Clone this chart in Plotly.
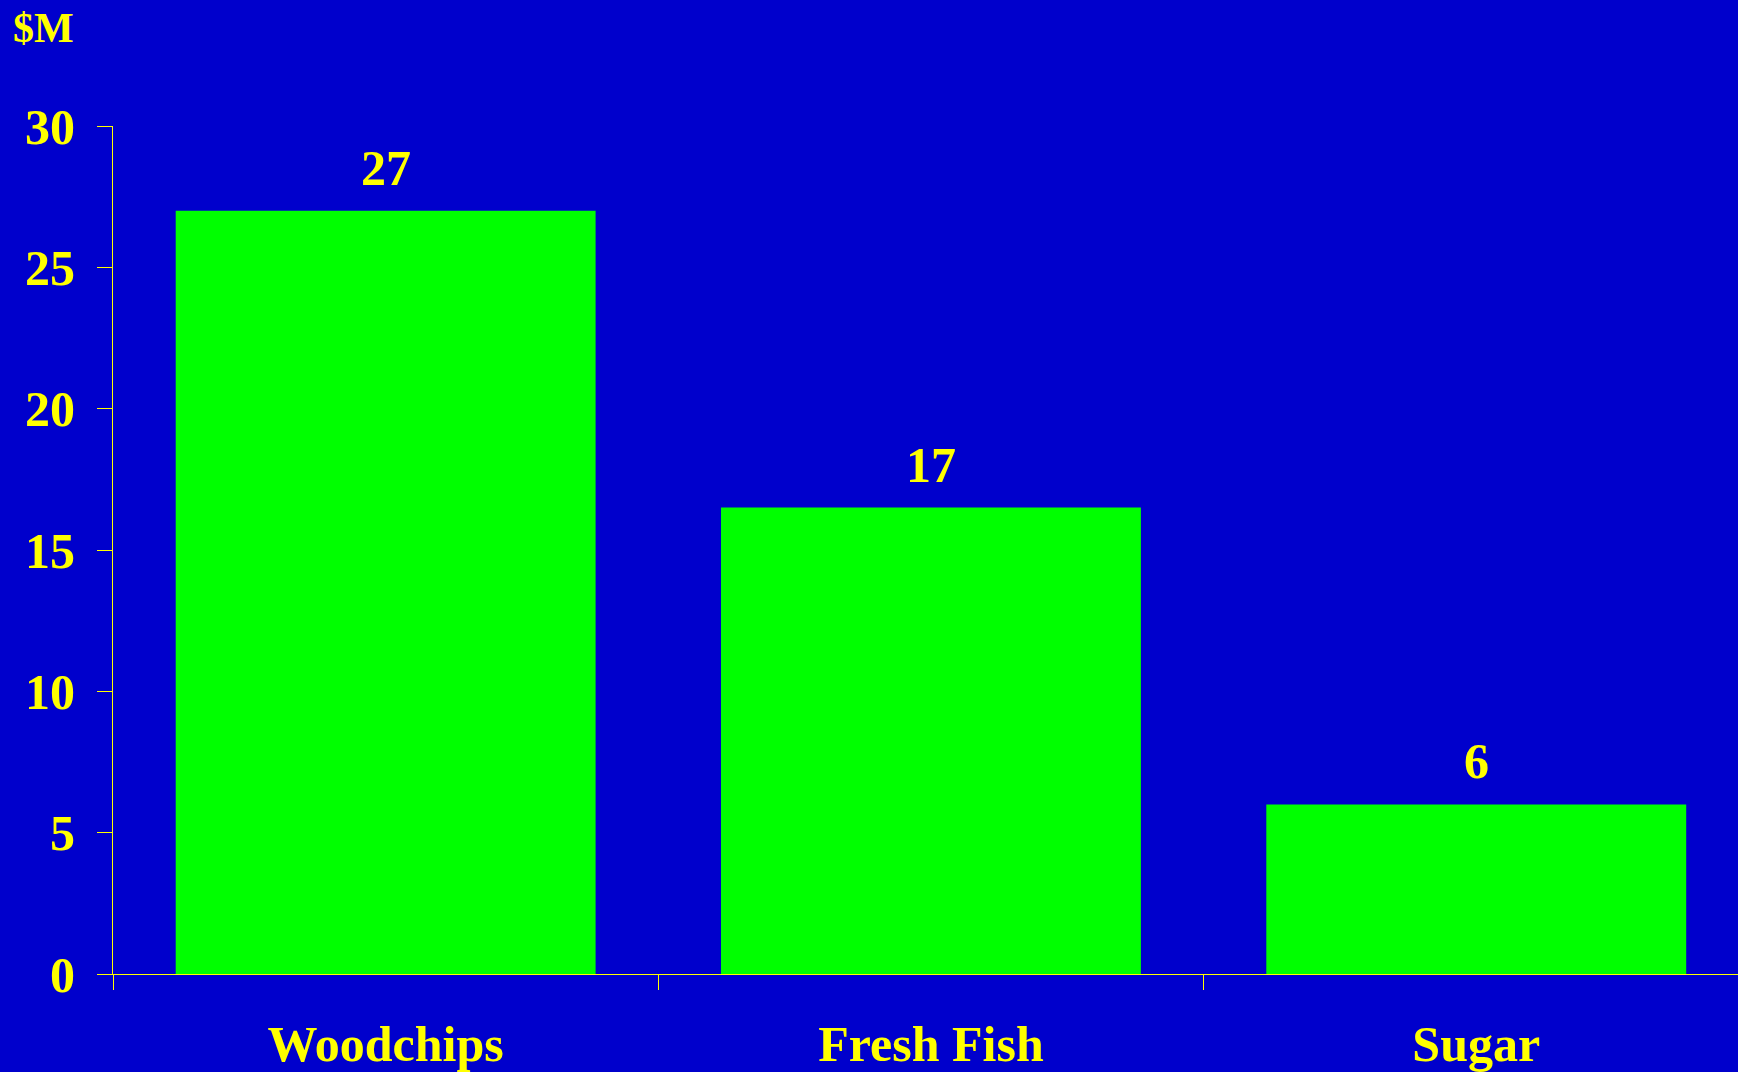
import plotly.graph_objects as go

categories = ["Woodchips", "Fresh Fish", "Sugar"]
values = [27, 16.5, 6]
value_labels = ["27", "17", "6"]
y_ticks = [0, 5, 10, 15, 20, 25, 30]

BG = "#0000CC"
BAR = "#00FF00"
TXT = "#FFFF00"
FONT = "Liberation Serif"

fig = go.Figure()
fig.add_trace(go.Bar(x=categories, y=values, marker=dict(color=BAR, line=dict(width=0)),
                     hoverinfo="skip"))

for c, v, t in zip(categories, values, value_labels):
    fig.add_annotation(x=c, y=v, text=f"<b>{t}</b>", showarrow=False, xref="x", yref="y",
                       yanchor="bottom", yshift=13,
                       font=dict(family=FONT, size=50, color=TXT))

fig.add_annotation(x=-102 / 1625, y=1 + (126 - 53) / 851, xref="paper", yref="paper",
                   xanchor="left", yanchor="bottom", text="<b>$M</b>", showarrow=False,
                   font=dict(family=FONT, size=42, color=TXT))

fig.update_layout(
    width=1738, height=1072,
    margin=dict(l=113, r=0, t=126, b=95),
    paper_bgcolor=BG, plot_bgcolor=BG,
    bargap=0.23,
    showlegend=False,
    font=dict(family=FONT, color=TXT, size=50),
)
fig.update_xaxes(range=[-0.5, 2.48], showgrid=False, zeroline=False,
                 showline=True, linecolor=TXT, linewidth=1,
                 ticks="outside", tickson="boundaries", ticklen=15, tickcolor=TXT, tickwidth=1,
                 ticklabelstandoff=26,
                 tickfont=dict(family=FONT, size=50, color=TXT, weight="bold"))
fig.update_yaxes(range=[0, 30], tickvals=y_ticks, showgrid=False, zeroline=False,
                 showline=True, linecolor=TXT, linewidth=1,
                 ticks="outside", ticklen=15, tickcolor=TXT, tickwidth=1,
                 ticklabelstandoff=12,
                 tickfont=dict(family=FONT, size=50, color=TXT, weight="bold"))

fig.write_html("out.html", config={"displayModeBar": False},
               post_script="document.body.style.margin='0';document.body.style.overflow='hidden';")
